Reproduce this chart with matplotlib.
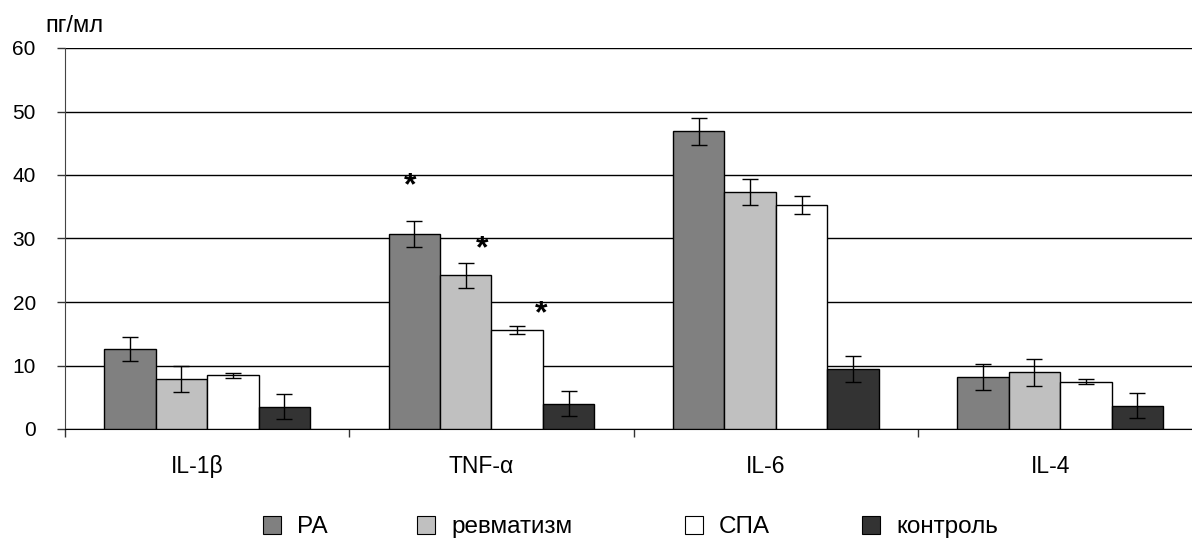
import numpy as np
import matplotlib
matplotlib.use('Agg')
import matplotlib.pyplot as plt
from matplotlib.patches import Patch

plt.rcParams['font.family'] = ['Liberation Sans', 'DejaVu Sans']

categories = ['IL-1β', 'TNF-α', 'IL-6', 'IL-4']
series = ['РА', 'ревматизм', 'СПА', 'контроль']
colors = ['#808080', '#c0c0c0', '#ffffff', '#333333']

ra = [12.6, 30.7, 46.9, 8.2]
revm = [7.9, 24.2, 37.3, 8.9]
spa = [8.45, 15.6, 35.3, 7.45]
control = [3.5, 4.0, 9.45, 3.7]

ra_err = [1.9, 2.0, 2.1, 2.0]
revm_err = [2.1, 2.0, 2.0, 2.05]
spa_err = [0.4, 0.6, 1.45, 0.35]
control_err = [2.0, 2.0, 2.0, 1.95]

# significance stars (x in category units, y in pg/ml)
star_x = [0.713, 0.967, 1.174]
star_y = [38.3, 28.3, 18.0]

values = [ra, revm, spa, control]
errors = [ra_err, revm_err, spa_err, control_err]

fig = plt.figure(figsize=(11.92, 5.4), dpi=100)
ax = fig.add_axes([65/1192, 111/540, 1127/1192, 381/540])

x = np.arange(len(categories))
w = 0.181
for i in range(4):
    ax.bar(x + (i - 1.5) * w, values[i], w, color=colors[i], edgecolor='black',
           linewidth=1.0, zorder=3,
           yerr=errors[i], error_kw=dict(ecolor='black', elinewidth=1.0, capsize=5.5, capthick=1.0, zorder=4))

for sx, sy in zip(star_x, star_y):
    ax.text(sx, sy, '*', ha='center', va='center', fontsize=23, fontweight='bold', zorder=5)

ax.set_xlim(-0.5, -0.5 + 1127/284.33)
ax.set_ylim(0, 60)
ax.set_yticks(range(0, 61, 10))
ax.yaxis.grid(True, color='black', linewidth=1.0, zorder=0)
ax.set_axisbelow(True)

# labels sit slightly left of the group centres in the original
ax.set_xticks(x - 0.035)
ax.set_xticklabels(categories, fontsize=16.5)
ax.set_xticks([-0.5, 0.5, 1.5, 2.5], minor=True)
ax.tick_params(axis='x', which='major', length=0, pad=19)
ax.tick_params(axis='x', which='minor', length=6, width=1.0, color='#333333', direction='out')
ax.tick_params(axis='y', length=6, width=1.0, color='#333333', labelsize=15, pad=15)

for s in ['top', 'right']:
    ax.spines[s].set_visible(False)
ax.spines['left'].set_color('#444444')
ax.spines['bottom'].set_color('black')

fig.text(45/1192, 1 - 26/540, 'пг/мл', fontsize=17, ha='left', va='center')

legend_x = [263, 417, 685, 862]
for i in range(4):
    h = Patch(facecolor=colors[i], edgecolor='black', linewidth=0.8)
    fig.legend([h], [series[i]], loc='center left', bbox_to_anchor=(legend_x[i]/1192, 1 - 527/540),
               frameon=False, fontsize=17.5, borderpad=0, borderaxespad=0,
               handlelength=0.75, handleheight=0.75, handletextpad=0.65)

fig.savefig('out.png', dpi=100)
